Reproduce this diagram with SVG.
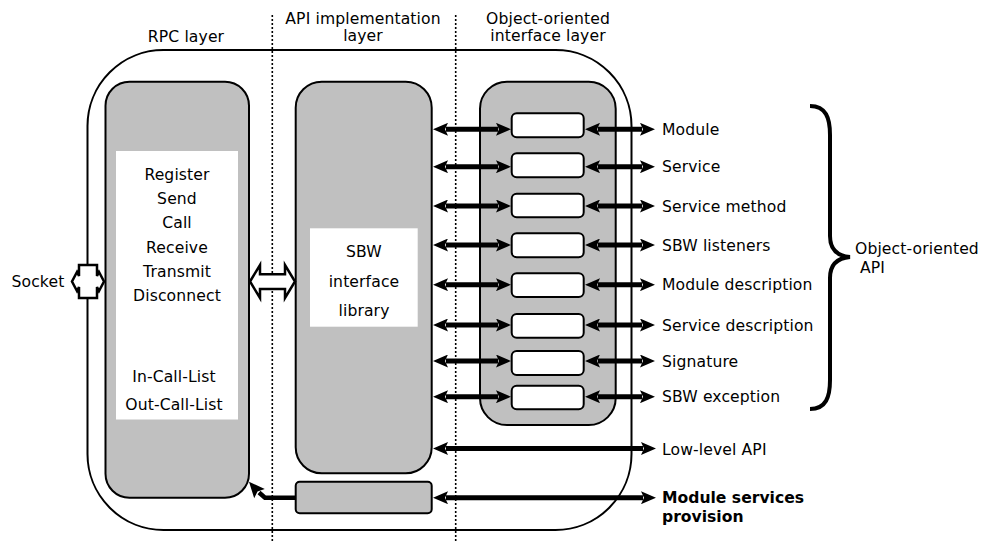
<svg xmlns="http://www.w3.org/2000/svg" width="981" height="542" viewBox="0 0 981 542">
<style>
text{font-family:"DejaVu Sans","Liberation Sans",sans-serif;font-size:15.6px;letter-spacing:0.12px;fill:#000}
.c{text-anchor:middle}
.b{font-weight:bold;letter-spacing:0}
.panel{fill:#c0c0c0;stroke:#000;stroke-width:2}
.wbox{fill:#fff;stroke:#000;stroke-width:2}
.wfill{fill:#fff;stroke:none}
.dot{stroke:#000;stroke-width:1.6;stroke-dasharray:2 2;fill:none}
.arr{stroke:#000;stroke-width:5;fill:none;marker-start:url(#ah);marker-end:url(#ah)}
.hollow{fill:#fff;stroke:#000;stroke-width:2.5;stroke-linejoin:miter}
</style>
<defs>
<marker id="ah" viewBox="0 0 15 13" refX="2" refY="6.5" markerWidth="15" markerHeight="13" markerUnits="userSpaceOnUse" orient="auto-start-reverse">
<path d="M0,0 L15,6.5 L0,13 L3,6.5 z" fill="#000"/>
</marker>
</defs>

<g id="layer-lines">
<line class="dot" x1="272.3" y1="15" x2="272.3" y2="542"/>
<line class="dot" x1="455.7" y1="15" x2="455.7" y2="542"/>
</g>

<g id="headings">
<text class="c" x="186" y="42">RPC layer</text>
<text class="c" x="363" y="24">API implementation</text>
<text class="c" x="363" y="41">layer</text>
<text class="c" x="548" y="24">Object-oriented</text>
<text class="c" x="548" y="41">interface layer</text>
</g>

<g id="outer">
<rect x="87.5" y="50" width="544" height="480" rx="76" ry="76" fill="none" stroke="#000" stroke-width="2"/>
</g>

<g id="rpc-panel">
<rect class="panel" x="105.5" y="81.7" width="143.5" height="416" rx="24" ry="24"/>
<rect class="wfill" x="116" y="151" width="122" height="268.5"/>
<text class="c" x="177" y="180">Register</text>
<text class="c" x="177" y="204">Send</text>
<text class="c" x="177" y="228">Call</text>
<text class="c" x="177" y="252.5">Receive</text>
<text class="c" x="177" y="276.5">Transmit</text>
<text class="c" x="177" y="301">Disconnect</text>
<text class="c" x="174" y="382.3">In-Call-List</text>
<text class="c" x="174" y="410">Out-Call-List</text>
</g>

<g id="api-panel">
<rect class="panel" x="295.7" y="81.7" width="136" height="391.6" rx="26" ry="26"/>
<rect class="wfill" x="310" y="228.3" width="107.7" height="98.4"/>
<text class="c" x="364" y="257.3">SBW</text>
<text class="c" x="364" y="286.7">interface</text>
<text class="c" x="364" y="316">library</text>
</g>

<g id="provision-box">
<rect class="panel" x="295.7" y="481.7" width="136" height="31.6" rx="4" ry="4"/>
</g>

<g id="oo-panel">
<rect class="panel" x="480" y="81.7" width="135.7" height="343.3" rx="27" ry="27"/>
<rect class="wbox" x="511.7" y="113.3" width="72" height="24" rx="5"/>
<rect class="wbox" x="511.7" y="153.3" width="72" height="24" rx="5"/>
<rect class="wbox" x="511.7" y="193.7" width="72" height="23.6" rx="5"/>
<rect class="wbox" x="511.7" y="233.3" width="72" height="24" rx="5"/>
<rect class="wbox" x="511.7" y="273.3" width="72" height="23.7" rx="5"/>
<rect class="wbox" x="511.7" y="314" width="72" height="23.7" rx="5"/>
<rect class="wbox" x="511.7" y="351" width="72" height="24" rx="5"/>
<rect class="wbox" x="511.7" y="385.7" width="72" height="23.6" rx="5"/>
</g>

<g id="socket">
<polygon class="hollow" points="79,265 97,265 97,276 99,272 104,281.5 99,291 97,287 97,298 79,298 79,287 77,291 72,281.5 77,272 79,276"/>
<text x="11.5" y="287">Socket</text>
</g>

<g id="labels">
<text x="662" y="135">Module</text>
<text x="662" y="172.3">Service</text>
<text x="662" y="211.7">Service method</text>
<text x="662" y="250.7">SBW listeners</text>
<text x="662" y="290.3">Module description</text>
<text x="662" y="330.7">Service description</text>
<text x="662" y="366.7">Signature</text>
<text x="662" y="402.3">SBW exception</text>
<text x="662" y="455">Low-level API</text>
<text class="b" x="662" y="503.3">Module services</text>
<text class="b" x="662" y="522">provision</text>
</g>

<g id="oo-api">
<path d="M810,106 C826,106 830,118 830,135 L830,236 C830,250 838,256 850,257 C838,258 830,264 830,278 L830,380 C830,397 826,409 810,409" fill="none" stroke="#000" stroke-width="4"/>
<text x="855" y="254">Object-oriented</text>
<text x="860" y="273.3">API</text>
</g>

<g id="connectors">
<polygon class="hollow" points="250,281.5 260,265 260,274.3 285,274.3 285,265 295,281.5 285,298 285,289 260,289 260,298"/>
<line class="arr" x1="446" y1="129.3" x2="498" y2="129.3"/>
<line class="arr" x1="598" y1="129.3" x2="642" y2="129.3"/>
<line class="arr" x1="446" y1="166.7" x2="498" y2="166.7"/>
<line class="arr" x1="598" y1="166.7" x2="642" y2="166.7"/>
<line class="arr" x1="446" y1="206" x2="498" y2="206"/>
<line class="arr" x1="598" y1="206" x2="642" y2="206"/>
<line class="arr" x1="446" y1="245" x2="498" y2="245"/>
<line class="arr" x1="598" y1="245" x2="642" y2="245"/>
<line class="arr" x1="446" y1="284.7" x2="498" y2="284.7"/>
<line class="arr" x1="598" y1="284.7" x2="642" y2="284.7"/>
<line class="arr" x1="446" y1="325" x2="498" y2="325"/>
<line class="arr" x1="598" y1="325" x2="642" y2="325"/>
<line class="arr" x1="446" y1="361" x2="498" y2="361"/>
<line class="arr" x1="598" y1="361" x2="642" y2="361"/>
<line class="arr" x1="446" y1="396.7" x2="498" y2="396.7"/>
<line class="arr" x1="598" y1="396.7" x2="642" y2="396.7"/>
<line class="arr" x1="446" y1="448.5" x2="643" y2="448.5"/>
<line class="arr" x1="446" y1="497.7" x2="643" y2="497.7"/>
<polyline points="295.7,497.7 265,497.7 259,492.5" fill="none" stroke="#000" stroke-width="4.5"/>
<polygon points="249,481.7 264.8,489.1 257.5,491.5 254.2,498.3" fill="#000"/>
</g>
</svg>
